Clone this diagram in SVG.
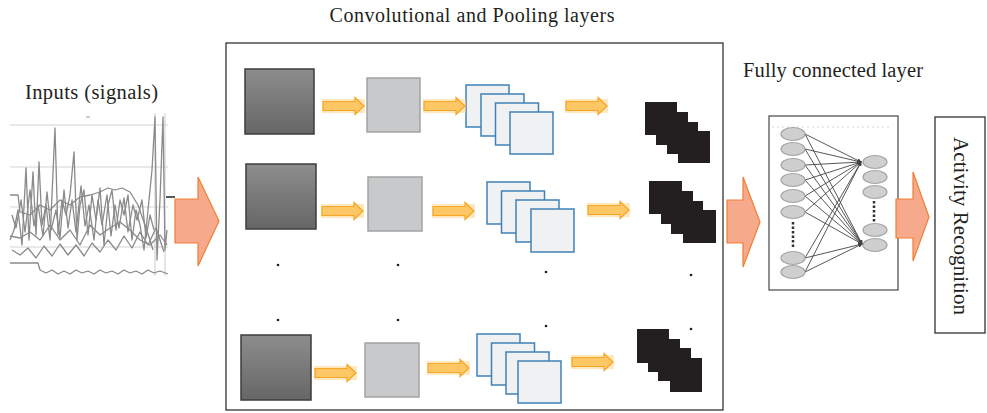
<svg xmlns="http://www.w3.org/2000/svg" width="987" height="413" viewBox="0 0 987 413">
<style>
.lbl{font-family:"Liberation Serif","Times New Roman",serif;fill:#231f20;}
.frame{fill:none;stroke:#333;stroke-width:1.3;}
.dark{fill:url(#gd);stroke:#3c3c3c;stroke-width:1.5;}
.light{fill:#c8c9cb;stroke:#a2a2a4;stroke-width:1.5;}
.blue{fill:#f0f1f3;stroke:#3f81b6;stroke-width:1.5;}
.blk{fill:#231f20;}
.dot{fill:#231f20;}
.big{fill:#f7a98b;stroke:#ef7f34;stroke-width:1.2;}
.grid{stroke:#d4d4d4;stroke-width:1.2;fill:none;}
.sig{fill:none;stroke:#8a8a8a;stroke-width:1.3;stroke-linejoin:round;}
.neu{fill:#cfcfcf;stroke:#a6a6a6;stroke-width:1.2;}
.fc{stroke:#444;stroke-width:0.9;fill:none;}
.vd{stroke:#333;stroke-width:2.5;stroke-dasharray:2.5 2;}
</style>
<defs>
<linearGradient id="gd" x1="0" y1="0" x2="0" y2="1">
<stop offset="0" stop-color="#8d8d8d"/><stop offset="1" stop-color="#666"/>
</linearGradient>
<g id="sa">
<rect x="-1" y="2" width="43" height="14" fill="#ffd48a" opacity="0.55"/>
<path d="M0,4.5 H32 V0.5 L41,9 L32,17.5 V13.5 H0 Z" fill="#fec765" stroke="#f6a623" stroke-width="1.2"/>
</g>
<marker id="ah" viewBox="0 0 6 6" refX="5" refY="3" markerWidth="5" markerHeight="5" orient="auto">
<path d="M0,0 L6,3 L0,6 Z" fill="#444"/>
</marker>
</defs>
<rect width="987" height="413" fill="#fff"/>

<text class="lbl" x="472" y="22" font-size="20" text-anchor="middle" textLength="285">Convolutional and Pooling layers</text>
<text class="lbl" x="91.5" y="99" font-size="20.5" text-anchor="middle" textLength="133">Inputs (signals)</text>
<text class="lbl" x="833" y="77" font-size="20.5" text-anchor="middle" textLength="180">Fully connected layer</text>

<g id="inputs">
<line class="grid" x1="10" y1="125" x2="168" y2="125"/>
<line class="grid" x1="10" y1="167" x2="168" y2="167"/>
<line class="grid" x1="10" y1="207" x2="168" y2="207"/>
<line class="grid" x1="10" y1="247" x2="168" y2="247"/>
<line class="grid" x1="155" y1="113" x2="155" y2="276"/>
<line class="grid" x1="165" y1="113" x2="165" y2="276"/>
<line x1="86" y1="117" x2="90" y2="117" stroke="#999" stroke-width="1"/>
<polyline class="sig" points="10,195 18,195 20,212 30,215 40,205 50,210 60,200 70,205 80,197 90,195 100,192 108,188 115,190 122,188 130,192 138,205 145,225 150,240 153,250"/>
<polyline class="sig" stroke="#999" points="10,236 20,238 30,232 40,240 50,225 60,240 70,230 80,245 90,225 100,235 110,228 120,222 130,230 140,240 150,245 160,235 167,245"/>
<polyline class="sig" stroke="#9a9a9a" points="12,215 16,228 21,200 25,232 30,190 34,226 38,205 43,236 47,192 51,230 56,210 60,238 64,190 68,228 72,200 76,232 81,186 85,226 89,205 94,240 98,200 102,225 107,195 111,236 115,205 119,228 124,198 128,232 133,205 137,220 142,200 146,238 150,215 154,230"/>
<polyline class="sig" stroke="#777" points="10,240 14,230 18,210 22,245 26,168 29,240 33,172 36,235 39,162 42,225 46,205 50,240 55,128 58,235 62,200 66,215 70,195 74,152 77,240 80,205 84,190 88,235 92,195 96,220 100,188 104,245 108,205 112,190 116,230 120,200 124,215 128,195 132,240 136,210 140,225 144,250 148,210 152,170 155,117 157,260 160,200 163,117 165,250 167,230"/>
<polyline class="sig" stroke="#aaa" points="12,250 20,255 28,248 36,258 44,246 52,256 60,244 68,255 76,245 84,256 92,243 100,252 108,240 116,250 124,236 132,248 140,232 148,245 156,228 164,252"/>
<polyline class="sig" stroke="#666" points="10,263 38,263 40,270 46,273 52,270 58,274 64,271 70,274 76,270 82,273 88,271 94,274 100,270 106,273 112,271 118,274 124,270 130,273 136,271 142,274 148,270 154,273 160,271 168,274"/>
<line x1="166" y1="197" x2="175" y2="197" stroke="#222" stroke-width="1.5"/>
</g>

<g id="conv-frame"><rect class="frame" x="226" y="43" width="497" height="367"/></g>

<g id="row1">
<rect class="dark" x="245" y="69" width="69" height="65"/>
<rect class="light" x="367" y="78" width="53" height="54"/>
<rect class="blue" x="466" y="85" width="43" height="42"/>
<rect class="blue" x="481" y="94" width="43" height="42"/>
<rect class="blue" x="495.5" y="103" width="43" height="42"/>
<rect class="blue" x="510" y="112" width="43" height="42"/>
<rect class="blk" x="645" y="102" width="32" height="33"/>
<rect class="blk" x="656" y="112" width="32" height="33"/>
<rect class="blk" x="667" y="122" width="31" height="32"/>
<rect class="blk" x="678" y="131" width="32" height="32"/>
</g>
<g id="row2">
<rect class="dark" x="246" y="164" width="70" height="65"/>
<rect class="light" x="368" y="177" width="54" height="54"/>
<rect class="blue" x="487" y="182" width="43" height="42"/>
<rect class="blue" x="501.5" y="191" width="43" height="42"/>
<rect class="blue" x="516" y="200" width="43" height="42"/>
<rect class="blue" x="531" y="209" width="43" height="43"/>
<rect class="blk" x="649" y="181" width="33" height="33"/>
<rect class="blk" x="661" y="191" width="32" height="33"/>
<rect class="blk" x="671" y="201" width="32" height="33"/>
<rect class="blk" x="683" y="210" width="33" height="33"/>
</g>
<g id="row3">
<rect class="dark" x="241" y="335" width="70" height="65"/>
<rect class="light" x="365" y="343" width="54" height="54"/>
<rect class="blue" x="477" y="334" width="43" height="42"/>
<rect class="blue" x="491.5" y="343" width="43" height="42"/>
<rect class="blue" x="506" y="352" width="43" height="42"/>
<rect class="blue" x="518" y="361" width="43" height="42"/>
<rect class="blk" x="637" y="329" width="32" height="34"/>
<rect class="blk" x="648" y="339" width="32" height="33"/>
<rect class="blk" x="658" y="348" width="33" height="33"/>
<rect class="blk" x="670" y="358" width="32" height="34"/>
</g>
<g id="ellipsis-dots">
<circle class="dot" cx="278" cy="265" r="1.3"/><circle class="dot" cx="398" cy="265" r="1.3"/>
<circle class="dot" cx="546" cy="272" r="1.3"/><circle class="dot" cx="691" cy="275" r="1.3"/>
<circle class="dot" cx="278" cy="320" r="1.3"/><circle class="dot" cx="398" cy="320" r="1.3"/>
<circle class="dot" cx="546" cy="326" r="1.3"/><circle class="dot" cx="691" cy="329" r="1.3"/>
</g>

<g id="fully-connected">
<rect x="769" y="116" width="129" height="174" fill="#fff" stroke="#555" stroke-width="1.3"/>
<line x1="772" y1="127" x2="892" y2="127" stroke="#ccc" stroke-width="0.8" stroke-dasharray="2 3"/>
<g class="fc" marker-end="url(#ah)">
<line x1="805" y1="134" x2="861" y2="162"/><line x1="805" y1="149" x2="861" y2="162"/>
<line x1="805" y1="165" x2="861" y2="162"/><line x1="805" y1="180" x2="861" y2="162"/>
<line x1="805" y1="196" x2="861" y2="162"/><line x1="805" y1="212" x2="861" y2="162"/>
<line x1="805" y1="258" x2="861" y2="162"/><line x1="805" y1="272" x2="861" y2="162"/>
<line x1="805" y1="134" x2="862" y2="244"/><line x1="805" y1="149" x2="862" y2="244"/>
<line x1="805" y1="165" x2="862" y2="244"/><line x1="805" y1="180" x2="862" y2="244"/>
<line x1="805" y1="196" x2="862" y2="244"/><line x1="805" y1="212" x2="862" y2="244"/>
<line x1="805" y1="258" x2="862" y2="244"/><line x1="805" y1="272" x2="862" y2="244"/>
</g>
<ellipse class="neu" cx="793" cy="134" rx="12" ry="6.5"/><ellipse class="neu" cx="793" cy="149" rx="12" ry="6.5"/>
<ellipse class="neu" cx="793" cy="165" rx="12" ry="6.5"/><ellipse class="neu" cx="793" cy="180" rx="12" ry="6.5"/>
<ellipse class="neu" cx="793" cy="196" rx="12" ry="6.5"/><ellipse class="neu" cx="793" cy="212" rx="12" ry="6.5"/>
<ellipse class="neu" cx="793" cy="258" rx="12" ry="6.5"/><ellipse class="neu" cx="793" cy="272" rx="12" ry="6.5"/>
<line class="vd" x1="793" y1="222" x2="793" y2="247"/>
<ellipse class="neu" cx="875" cy="162" rx="12" ry="6.5"/><ellipse class="neu" cx="875" cy="177" rx="12" ry="6.5"/>
<ellipse class="neu" cx="875" cy="192" rx="12" ry="6.5"/><ellipse class="neu" cx="875" cy="230" rx="12" ry="6.5"/>
<ellipse class="neu" cx="875" cy="245" rx="12" ry="6.5"/>
<line class="vd" x1="874" y1="201" x2="874" y2="222"/>
</g>

<g id="activity">
<rect x="935" y="117" width="50" height="216" fill="#fff" stroke="#333" stroke-width="1.3"/>
<text class="lbl" transform="translate(954,226) rotate(90)" font-size="21" text-anchor="middle" textLength="178">Activity Recognition</text>
</g>

<g id="connectors">
<path class="big" d="M175,199 H198 V177 L219,221 L198,266 V243 H175 Z"/>
<path class="big" d="M727,200 H743 V177 L760,222 L743,267 V243 H727 Z"/>
<path class="big" d="M896,199 H913 V172 L929,217 L913,261 V238 H896 Z"/>
<use href="#sa" x="323" y="97"/><use href="#sa" x="424" y="97"/><use href="#sa" x="566" y="97"/>
<use href="#sa" x="322" y="202"/><use href="#sa" x="433" y="202"/><use href="#sa" x="588" y="201"/>
<use href="#sa" x="315" y="364"/><use href="#sa" x="428" y="359"/><use href="#sa" x="572" y="353"/>
</g>
</svg>
